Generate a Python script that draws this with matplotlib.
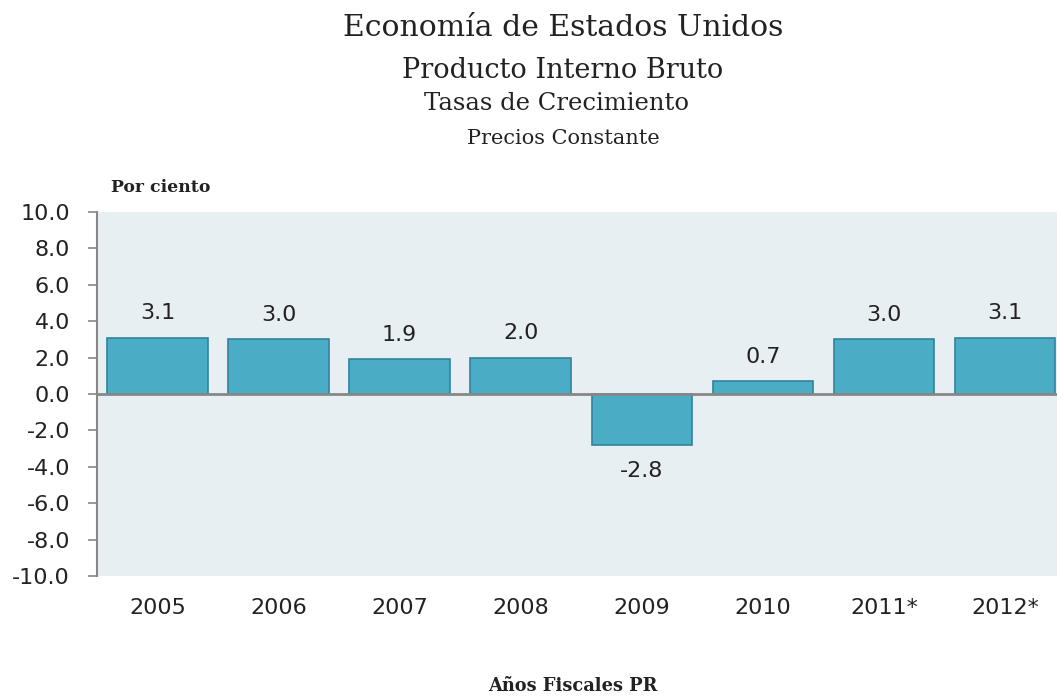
import matplotlib
matplotlib.use('Agg')
import matplotlib.pyplot as plt

years = ['2005', '2006', '2007', '2008', '2009', '2010', '2011*', '2012*']
growth = [3.1, 3.0, 1.9, 2.0, -2.8, 0.7, 3.0, 3.1]
yticks = [10.0, 8.0, 6.0, 4.0, 2.0, 0.0, -2.0, -4.0, -6.0, -8.0, -10.0]

W, H = 1057, 698
fig = plt.figure(figsize=(W / 100, H / 100), dpi=100)
ax = fig.add_axes([97 / W, 1 - 576 / H, 1 - 97 / W, (576 - 212) / H])

ax.set_facecolor('#E7EFF3')
x = range(len(years))
ax.bar(x, growth, width=0.83, color='#4BACC6', edgecolor='#31849B', linewidth=1.2, zorder=2)
ax.axhline(0, color='#878787', linewidth=2, zorder=3)

for i, v in enumerate(growth):
    off = 0.8 if v >= 0 else -0.9
    ax.text(i, v + off, f'{v:.1f}', ha='center', va='bottom' if v >= 0 else 'top',
            fontsize=16, color='#222222', family='DejaVu Sans')

ax.set_xlim(-0.5, 7.43)
ax.set_ylim(-10, 10)
ax.set_yticks(yticks)
ax.set_yticklabels([f'{t:.1f}' for t in yticks], fontsize=16, color='#222222')
ax.set_xticks(list(x))
ax.set_xticklabels(years, fontsize=16, color='#222222')
ax.tick_params(axis='x', length=0, pad=16)
ax.tick_params(axis='y', direction='out', length=6.5, color='#878787', width=1.2, pad=13)
for s in ['top', 'right', 'bottom']:
    ax.spines[s].set_visible(False)
ax.spines['left'].set_color('#878787')
ax.spines['left'].set_linewidth(1.5)

serif = 'DejaVu Serif'
fig.text(563 / W, 1 - 28 / H, 'Economía de Estados Unidos', ha='center', va='center', fontsize=21.5, family=serif, color='#222222')
fig.text(563 / W, 1 - 70 / H, 'Producto Interno Bruto', ha='center', va='center', fontsize=19.5, family=serif, color='#222222')
fig.text(557 / W, 1 - 104 / H, 'Tasas de Crecimiento', ha='center', va='center', fontsize=17.5, family=serif, color='#222222')
fig.text(563 / W, 1 - 138 / H, 'Precios Constante', ha='center', va='center', fontsize=15, family=serif, color='#222222')
fig.text(161 / W, 1 - 188 / H, 'Por ciento', ha='center', va='center', fontsize=12.4, family=serif, weight='bold', color='#222222')
fig.text(573 / W, 1 - 686 / H, 'Años Fiscales PR', ha='center', va='center', fontsize=12.8, family=serif, weight='bold', color='#222222')

fig.savefig('out.png', dpi=100)
